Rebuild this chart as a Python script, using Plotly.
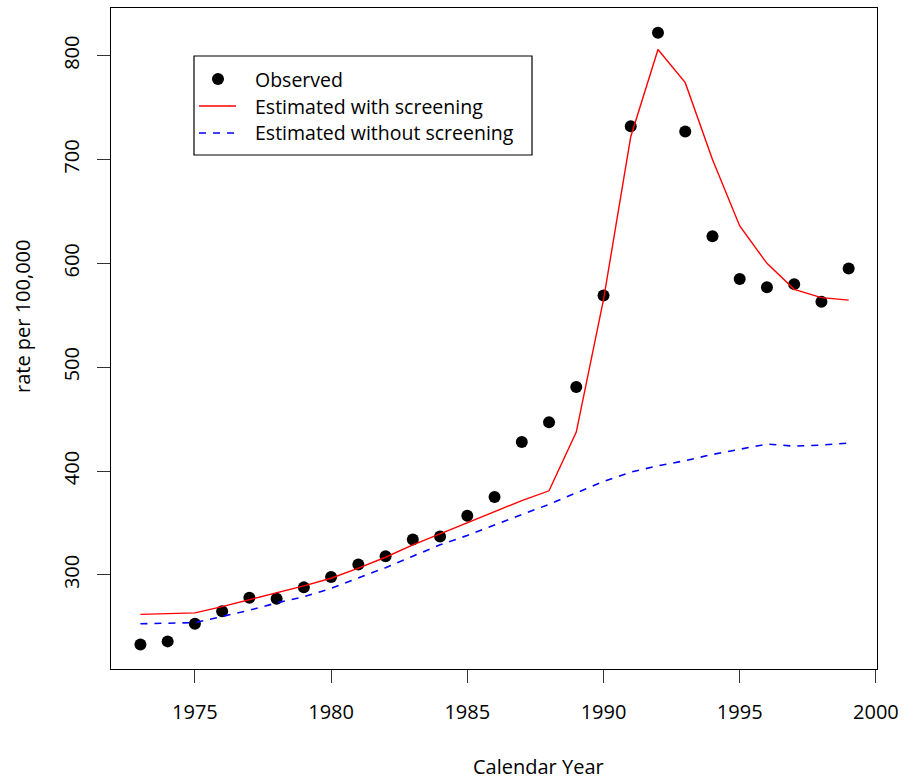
import plotly.graph_objects as go

# Calendar years covered by the series
years = list(range(1973, 2000))

# Observed incidence rate per 100,000
observed = [233, 236, 253, 265, 278, 277, 288, 298, 310, 318, 334, 337, 357, 375,
            428, 447, 481, 569, 732, 822, 727, 626, 585, 577, 580, 563, 595]

# Model estimate including the effect of screening
est_screening = [262, 262.7, 263.4, 269.5, 276, 282.4, 289.4, 296.8, 306.5, 317,
                 328.9, 339.5, 350.4, 361, 371.6, 381, 437.5, 565, 722, 806, 774,
                 700, 636, 600, 575, 567, 564.6]

# Model estimate without screening
est_no_screening = [253, 253.5, 254, 260, 266, 273, 279, 287, 297, 307, 318, 329,
                    338, 348, 358, 368, 379, 390, 399, 405, 410, 416, 421, 426, 424,
                    425, 427]

x_ticks = [1975, 1980, 1985, 1990, 1995, 2000]
y_ticks = [300, 400, 500, 600, 700, 800]

legend_labels = ["Observed", "Estimated with screening", "Estimated without screening"]

FONT = "Open Sans"
FS = 20
LEG_FS = 19.5

# Figure geometry (pixels) used to place the legend box and titles
W, H = 911, 780
ML, MR, MT, MB = 111, 34, 8, 111
PW, PH = W - ML - MR, H - MT - MB


def px(xpix):
    return (xpix - ML) / PW


def py(ypix):
    return (H - MB - ypix) / PH


fig = go.Figure()
fig.add_trace(go.Scatter(
    x=years, y=observed, mode="markers", name=legend_labels[0],
    marker=dict(color="black", size=12), showlegend=False,
))
fig.add_trace(go.Scatter(
    x=years, y=est_screening, mode="lines", name=legend_labels[1],
    line=dict(color="red", width=1.4), showlegend=False,
))
fig.add_trace(go.Scatter(
    x=years, y=est_no_screening, mode="lines", name=legend_labels[2],
    line=dict(color="blue", width=1.6, dash="7px,7px"), showlegend=False,
))

axis_common = dict(
    showgrid=False, zeroline=False, showline=True, mirror=True,
    linecolor="black", linewidth=1.3,
    ticks="outside", ticklen=13, tickwidth=1.2, tickcolor="#333",
    tickfont=dict(family=FONT, size=FS, color="black"),
)

# Legend rows (pixel y of each entry)
row_y = [79, 106, 133]

# Legend box drawn in the upper-left corner of the panel
shapes = [
    dict(type="rect", xref="paper", yref="paper",
         x0=px(194), x1=px(532), y0=py(155), y1=py(56),
         line=dict(color="black", width=1.2), fillcolor="white", layer="above"),
    dict(type="circle", xref="paper", yref="paper",
         x0=px(212), x1=px(224), y0=py(row_y[0] + 6), y1=py(row_y[0] - 6),
         line=dict(color="black", width=0), fillcolor="black", layer="above"),
    dict(type="line", xref="paper", yref="paper",
         x0=px(199), x1=px(236), y0=py(row_y[1]), y1=py(row_y[1]),
         line=dict(color="red", width=1.4), layer="above"),
    dict(type="line", xref="paper", yref="paper",
         x0=px(199), x1=px(236), y0=py(row_y[2]), y1=py(row_y[2]),
         line=dict(color="blue", width=1.6, dash="7px,7px"), layer="above"),
]

annotations = [
    dict(text=lbl, xref="paper", yref="paper", x=px(254), y=py(yy),
         xanchor="left", yanchor="middle", showarrow=False, borderpad=0,
         font=dict(family=FONT, size=LEG_FS, color="black"))
    for lbl, yy in zip(legend_labels, row_y)
]
annotations += [
    dict(text="Calendar Year", xref="paper", yref="paper",
         x=px(538), y=py(766), xanchor="center", yanchor="middle",
         showarrow=False, font=dict(family=FONT, size=FS, color="black")),
    dict(text="rate per 100,000", xref="paper", yref="paper",
         x=px(22), y=py(317), xanchor="center", yanchor="middle",
         textangle=-90, showarrow=False,
         font=dict(family=FONT, size=FS, color="black")),
]

fig.update_layout(
    width=W, height=H,
    margin=dict(l=ML, r=MR, t=MT, b=MB),
    paper_bgcolor="white", plot_bgcolor="white",
    font=dict(family=FONT, size=FS, color="black"),
    xaxis=dict(range=[1971.92, 2000.04], tickvals=x_ticks,
               ticklabelstandoff=12, **axis_common),
    yaxis=dict(range=[209.4, 845.9], tickvals=y_ticks, tickangle=-90,
               ticklabelstandoff=10, **axis_common),
    showlegend=False,
    shapes=shapes,
    annotations=annotations,
)

fig.write_html("out.html")
